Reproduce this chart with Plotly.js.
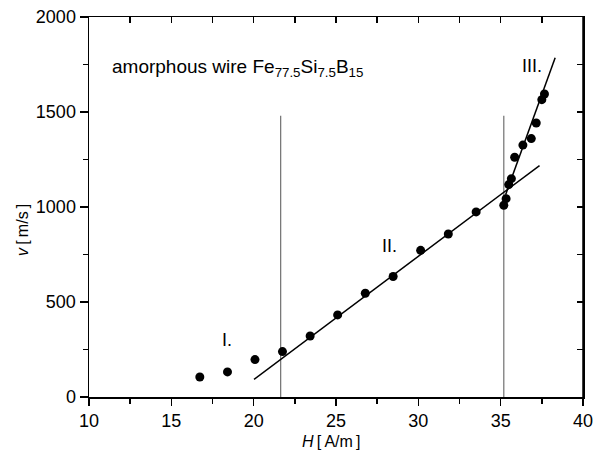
<!DOCTYPE html>
<html>
<head>
<meta charset="utf-8">
<script src="https://cdn.plot.ly/plotly-3.0.1.min.js"></script>
<style>html,body{margin:0;padding:0;background:#fff;overflow:hidden;}#chart{width:594px;height:455px;}</style>
</head>
<body>
<div id="chart"></div>
<script>
// Measured data: field H [A/m] and domain wall velocity v [m/s]
const fieldH = [16.73, 18.41, 20.08, 21.75, 23.43, 25.10, 26.78, 28.47, 30.14, 31.82, 33.51, 35.19, 35.33, 35.49, 35.65, 35.85, 36.35, 36.86, 37.16, 37.50, 37.66];
const velocity = [105, 132, 197, 239, 321, 432, 546, 634, 772, 858, 974, 1009, 1044, 1118, 1149, 1262, 1326, 1360, 1442, 1565, 1595];

// Linear fit, region II
const fitIIH = [20.02, 37.36];
const fitIIv = [93, 1218];
// Linear fit, region III
const fitIIIH = [35.30, 38.31];
const fitIIIv = [1065, 1786];

// Region boundaries
const boundaryH = [21.64, 35.19];
const boundaryV = [0, 1480];

const xTicks = [10, 15, 20, 25, 30, 35, 40];
const yTicks = [0, 500, 1000, 1500, 2000];

const fam = 'Liberation Sans, Arial, sans-serif';
const font = {family: fam, size: 18, color: '#000'};

const traces = [];
boundaryH.forEach(function (h) {
  traces.push({x: [h, h], y: boundaryV, mode: 'lines', line: {color: '#707070', width: 1.2}, hoverinfo: 'skip', showlegend: false});
});
traces.push({x: fitIIH, y: fitIIv, mode: 'lines', line: {color: '#000', width: 1.5}, showlegend: false});
traces.push({x: fitIIIH, y: fitIIIv, mode: 'lines', line: {color: '#000', width: 1.5}, showlegend: false});
traces.push({x: fieldH, y: velocity, mode: 'markers', marker: {color: '#000', size: 9}, showlegend: false});
// invisible trace binding the top/right axes that carry inward ticks
traces.push({x: [10], y: [0], xaxis: 'x2', yaxis: 'y2', mode: 'markers', marker: {opacity: 0}, hoverinfo: 'skip', showlegend: false});

const axisCommon = {
  showgrid: false, zeroline: false, showline: true, linecolor: '#000', linewidth: 1.5,
  tickcolor: '#000', tickwidth: 1.5, tickfont: font
};

const layout = {
  width: 594, height: 455,
  margin: {l: 89, r: 11, t: 17, b: 58},
  paper_bgcolor: '#fff', plot_bgcolor: '#fff',
  font: font,
  xaxis: Object.assign({}, axisCommon, {
    range: [10, 40], tickvals: xTicks, ticktext: xTicks.map(String),
    ticks: 'outside', ticklen: 7, mirror: true,
    minor: {dtick: 2.5, tick0: 10, ticks: 'outside', ticklen: 5, tickcolor: '#000', tickwidth: 1.5}
  }),
  yaxis: Object.assign({}, axisCommon, {
    range: [0, 2000], tickvals: yTicks, ticktext: yTicks.map(String),
    ticks: 'outside', ticklen: 8, mirror: true,
    minor: {dtick: 250, tick0: 0, ticks: 'outside', ticklen: 5, tickcolor: '#000', tickwidth: 1.5}
  }),
  xaxis2: Object.assign({}, axisCommon, {
    overlaying: 'x', side: 'top', range: [10, 40], dtick: 2.5, tick0: 10, showline: false,
    ticks: 'inside', ticklen: 6, showticklabels: false
  }),
  yaxis2: Object.assign({}, axisCommon, {
    overlaying: 'y', side: 'right', range: [0, 2000], dtick: 250, tick0: 0, showline: false,
    ticks: 'inside', ticklen: 6, showticklabels: false
  }),
  shapes: [
    {type: 'line', xref: 'paper', yref: 'paper', x0: 1, x1: 1, y0: 0, y1: 1,
     line: {color: '#000', width: 1.5}, layer: 'above'}
  ],
  annotations: [
    {x: 11.3, y: 1730, xref: 'x', yref: 'y', xanchor: 'left', yanchor: 'middle', showarrow: false,
     text: 'amorphous wire Fe<sub>77.5</sub>Si<sub>7.5</sub>B<sub>15</sub>', font: {family: fam, size: 19, color: '#000'}},
    {x: 18.38, y: 300, xref: 'x', yref: 'y', showarrow: false, text: 'I.', font: font},
    {x: 28.23, y: 796, xref: 'x', yref: 'y', showarrow: false, text: 'II.', font: font},
    {x: 36.91, y: 1740, xref: 'x', yref: 'y', showarrow: false, text: 'III.', font: font},
    {x: 0.49, y: -0.118, xref: 'paper', yref: 'paper', showarrow: false, xanchor: 'center', yanchor: 'middle',
     text: '<i>H</i>\u2009[\u2009A/m\u2009]', font: {family: fam, size: 16, color: '#000'}},
    {x: -0.136, y: 0.439, xref: 'paper', yref: 'paper', showarrow: false, xanchor: 'center', yanchor: 'middle',
     textangle: -90, text: '<i>v</i>\u2009[\u2009m/s\u2009]', font: {family: fam, size: 16, color: '#000'}}
  ]
};

Plotly.newPlot('chart', traces, layout, {displayModeBar: false, staticPlot: true});
</script>
</body>
</html>
